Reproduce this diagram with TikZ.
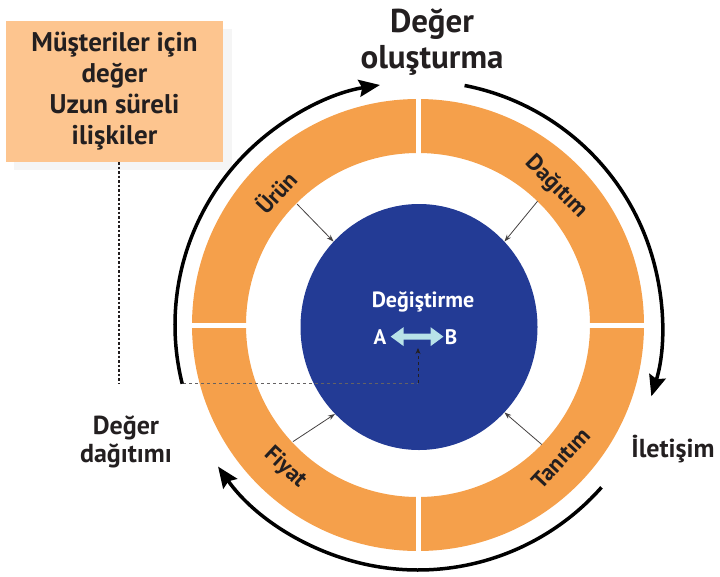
\documentclass[tikz,border=0pt]{standalone}
\usepackage{fontspec}
\setmainfont{PT Sans}
\usetikzlibrary{arrows.meta,shapes.geometric}
\definecolor{ringor}{RGB}{245,160,75}
\definecolor{boxor}{RGB}{253,197,143}
\definecolor{core}{RGB}{35,59,149}
\definecolor{ink}{RGB}{35,31,32}
\definecolor{pale}{RGB}{184,226,232}
\begin{document}
\begin{tikzpicture}[x=1pt,y=1pt,
  lbl/.style={font=\bfseries\fontsize{26}{28}\selectfont, text=ink, align=center},
  seg/.style={font=\bfseries\fontsize{23}{26}\selectfont, text=ink, inner sep=0pt},
  cyc/.style={draw=black, line width=3.5pt, -{Stealth[length=21pt,width=17pt,inset=3pt]}},
  feed/.style={draw=ink!85, line width=0.8pt, -{Stealth[length=7pt,width=5pt]}},
  gap/.style={draw=white, line width=5pt}]
\useasboundingbox (0,0) rectangle (720,-576);
\coordinate (c) at (418,-325);

% note box with its soft shadow
\fill[black!4] (14,-29) rectangle (232,-170);
\node[fill=boxor, minimum width=217pt, minimum height=141pt, inner sep=0pt,
      font=\bfseries\fontsize{27}{31}\selectfont, text=ink, align=center]
  (box) at (114.5,-91.5) {Müşteriler için\\değer\\Uzun süreli\\ilişkiler};

% orange ring split into four quadrants
\fill[ringor, even odd rule] (c) circle[radius=226] (c) circle[radius=172];
\draw[gap] (418,-90) -- (418,-160);
\draw[gap] (418,-490) -- (418,-560);
\draw[gap] (180,-325) -- (255,-325);
\draw[gap] (581,-325) -- (656,-325);

% exchange core
\node[ellipse, fill=core, minimum width=237pt, minimum height=246pt, inner sep=0pt] (core) at (419,-327) {};
\node[font=\bfseries\fontsize{22}{24}\selectfont, text=white, anchor=base] (chg) at (423,-307) {Değiştirme};
\node[font=\bfseries\fontsize{21}{24}\selectfont, text=white, anchor=base, inner sep=2pt] (A) at (380,-344) {A};
\node[font=\bfseries\fontsize{21}{24}\selectfont, text=white, anchor=base, inner sep=2pt] (B) at (451,-344) {B};
\draw[pale, line width=6pt, {Triangle[length=13pt,width=18pt]}-{Triangle[length=13pt,width=18pt]}]
  ([xshift=2pt]A.east) -- ([xshift=1pt]B.west);

% segment labels
\node[seg, rotate=47]  (urun) at ([shift={(137:195)}]c) {Ürün};
\node[seg, rotate=-45] (dag)  at ([shift={(45:195)}]c)  {Dağıtım};
\node[seg, rotate=-43] (fiy)  at ([shift={(227:195)}]c) {Fiyat};
\node[seg, rotate=47]  (tan)  at ([shift={(-43:195)}]c) {Tanıtım};

% inward arrows from the ring to the core
\coordinate (s1) at ([shift={(135:171)}]c);
\coordinate (s2) at ([shift={(46:172)}]c);
\coordinate (s3) at ([shift={(223:171)}]c);
\coordinate (s4) at ([shift={(-44:172)}]c);
\draw[feed] (s1) -- (core.135);
\draw[feed] (s2) -- (core.45);
\draw[feed] (s3) -- (core.226);
\draw[feed] (s4) -- (core.-45);

% dashed lead to the exchange
\coordinate (dl) at (183,-383);
\coordinate (dc) at (418,-383);
\coordinate (dt) at (418,-348);
\draw[ink!70, dashed, line width=0.5pt] (dl) -- (dc);
\draw[ink, dashed, line width=0.8pt, -{Stealth[length=6pt,width=5pt]}] (dc) -- (dt);

% dotted drop from the note box
\coordinate (dotend) at (119,-383);
\draw[ink, line width=2pt, dash pattern=on 2.5pt off 2pt] (box.south -| dotend) -- (dotend);

% cycle arrows around the ring
\draw[cyc] ([shift={(194:243)}]c) arc[start angle=194, end angle=99, radius=243];
\draw[cyc] ([shift={(79:244)}]c) arc[start angle=79, end angle=-17, radius=244];
\draw[cyc] ([shift={(-41.5:245)}]c) arc[start angle=-41.5, end angle=-144.7, radius=245];

% outer captions (anchored on the baseline of the last line)
\node[font=\bfseries\fontsize{33}{36}\selectfont, text=ink, align=center, anchor=base] (olus) at (432,-68) {Değer\\oluşturma};
\node[lbl, anchor=base] (dagit) at (126,-462) {Değer\\dağıtımı};
\node[lbl, anchor=base] (ilet) at (673,-457) {İletişim};
\end{tikzpicture}
\end{document}
